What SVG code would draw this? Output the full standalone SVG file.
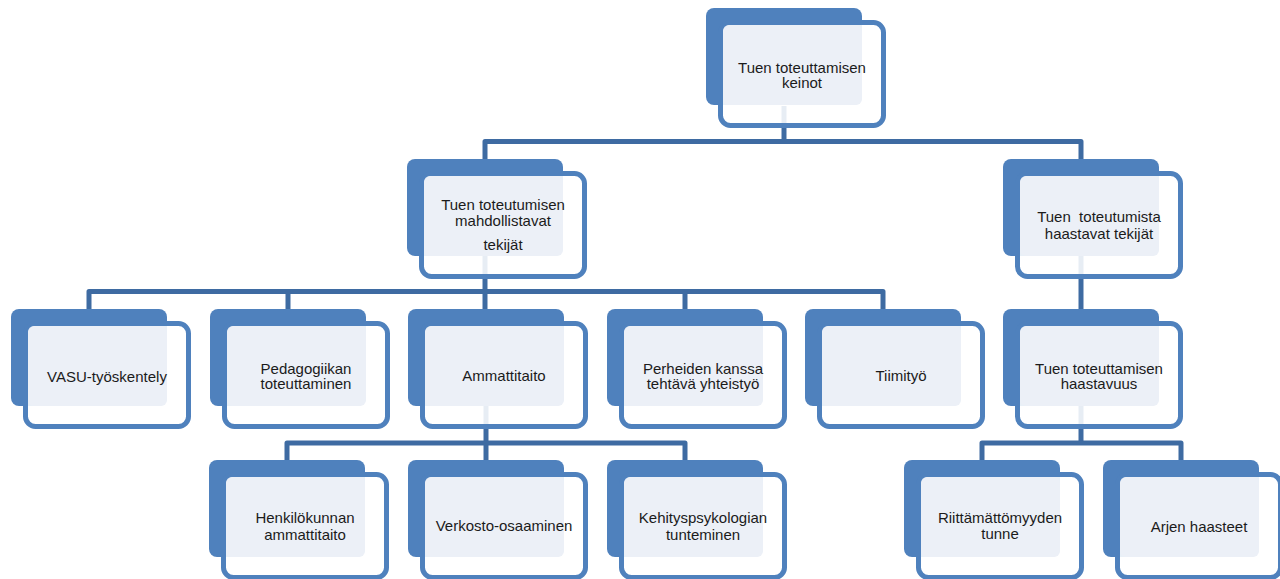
<svg xmlns="http://www.w3.org/2000/svg" width="1280" height="579" viewBox="0 0 1280 579">
<style>
.back{fill:#4F81BD}
.front{fill:#fff;fill-opacity:0.88;stroke:#4F81BD;stroke-width:5}
.inner{fill:#ECF0F7}
.conn{fill:none;stroke:#3E6BA2;stroke-width:5;stroke-linejoin:round}
.t{font-family:"Liberation Sans",Arial,sans-serif;font-size:15px;fill:#1b1b1b;text-anchor:middle}
</style>
<defs>
<g id="box">
<rect class="back" x="0" y="0" width="156" height="97" rx="8"/>
<rect class="front" x="14.5" y="14.5" width="163" height="103" rx="10"/>
<rect class="inner" x="17" y="17" width="139" height="80" rx="6"/>
</g>
</defs>
<g id="connectors">
<path class="conn" d="M784,106 V141.5"/>
<path class="conn" d="M485,159 V141.5 H1081 V159"/>
<path class="conn" d="M485,256 V309"/>
<path class="conn" d="M89,309 V291.5 H883 V309"/>
<path class="conn" d="M288,291.5 V309 M685,291.5 V309"/>
<path class="conn" d="M1081,256 V309"/>
<path class="conn" d="M486,406 V460"/>
<path class="conn" d="M287,460 V443 H685 V460"/>
<path class="conn" d="M1081,406 V443"/>
<path class="conn" d="M982,460 V443 H1181 V460"/>
</g>
<g id="n-top"><use href="#box" x="706" y="8"/><text class="t" x="802" y="72.5">Tuen toteuttamisen</text><text class="t" x="802" y="87.5">keinot</text></g>
<g id="n-mahdollistavat"><use href="#box" x="407" y="159"/><text class="t" x="503" y="210">Tuen toteutumisen</text><text class="t" x="503" y="226">mahdollistavat</text><text class="t" x="503" y="250">tekijät</text></g>
<g id="n-haastavat"><use href="#box" x="1003" y="159"/><text class="t" x="1099" y="221.5" style="white-space:pre">Tuen  toteutumista</text><text class="t" x="1099" y="239">haastavat tekijät</text></g>
<g id="n-vasu"><use href="#box" x="11" y="309"/><text class="t" x="107" y="381.5">VASU-työskentely</text></g>
<g id="n-pedagogiikka"><use href="#box" x="210" y="309"/><text class="t" x="306" y="374">Pedagogiikan</text><text class="t" x="306" y="388.5">toteuttaminen</text></g>
<g id="n-ammattitaito"><use href="#box" x="408" y="309"/><text class="t" x="504" y="381">Ammattitaito</text></g>
<g id="n-perheet"><use href="#box" x="607" y="309"/><text class="t" x="703" y="374">Perheiden kanssa</text><text class="t" x="703" y="388.5">tehtävä yhteistyö</text></g>
<g id="n-tiimityo"><use href="#box" x="805" y="309"/><text class="t" x="901" y="381">Tiimityö</text></g>
<g id="n-haastavuus"><use href="#box" x="1003" y="309"/><text class="t" x="1099" y="374">Tuen toteuttamisen</text><text class="t" x="1099" y="388.5">haastavuus</text></g>
<g id="n-henkilokunta"><use href="#box" x="209" y="460"/><text class="t" x="305" y="522.5">Henkilökunnan</text><text class="t" x="305" y="540">ammattitaito</text></g>
<g id="n-verkosto"><use href="#box" x="408" y="460"/><text class="t" x="504" y="531">Verkosto-osaaminen</text></g>
<g id="n-kehityspsykologia"><use href="#box" x="607" y="460"/><text class="t" x="703" y="523">Kehityspsykologian</text><text class="t" x="703" y="540">tunteminen</text></g>
<g id="n-riittamattomyys"><use href="#box" x="904" y="460"/><text class="t" x="1000" y="523">Riittämättömyyden</text><text class="t" x="1000" y="539">tunne</text></g>
<g id="n-arki"><use href="#box" x="1103" y="460"/><text class="t" x="1199" y="531.5">Arjen haasteet</text></g>
</svg>
